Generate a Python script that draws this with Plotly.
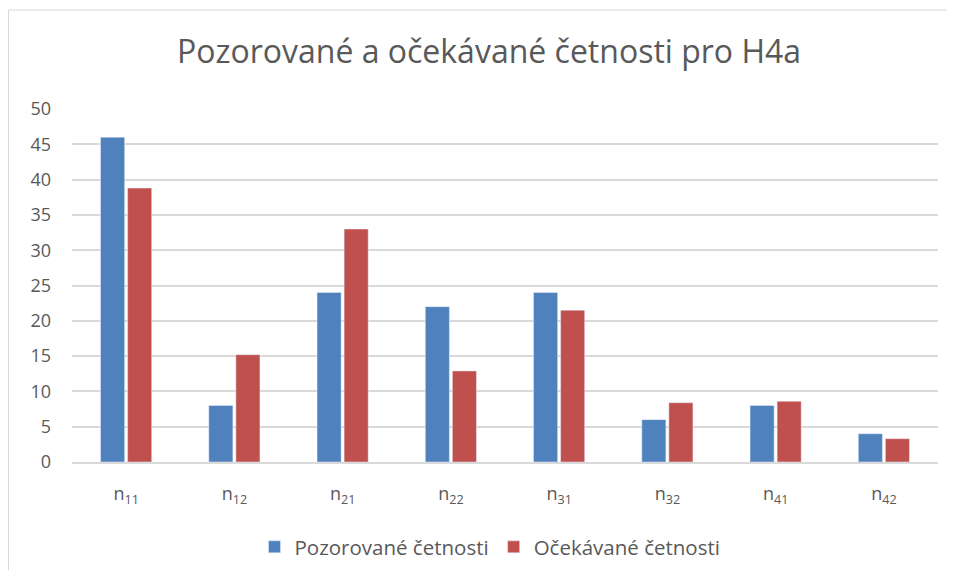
import plotly.graph_objects as go

categories = ["n<sub>11</sub>", "n<sub>12</sub>", "n<sub>21</sub>", "n<sub>22</sub>",
              "n<sub>31</sub>", "n<sub>32</sub>", "n<sub>41</sub>", "n<sub>42</sub>"]
observed = [46, 8, 24, 22, 24, 6, 8, 4]
expected = [38.8, 15.2, 33.0, 12.9, 21.5, 8.4, 8.6, 3.3]
y_ticks = [0, 5, 10, 15, 20, 25, 30, 35, 40, 45, 50]

FONT = "Open Sans, Noto Sans, sans-serif"
GRAY = "#595959"

fig = go.Figure()
fig.add_trace(go.Bar(name="Pozorované četnosti", x=categories, y=observed,
                     marker=dict(color="#4f81bd")))
fig.add_trace(go.Bar(name="Očekávané četnosti", x=categories, y=expected,
                     marker=dict(color="#c0504d")))

# page is offset by the 8px body margin
W, H = 939, 562
L, R, T = 64, 9, 101
pw = W - L - R
ph = 353
B = H - T - ph

fig.update_layout(
    width=W, height=H,
    margin=dict(l=L, r=R, t=T, b=B, autoexpand=False),
    paper_bgcolor="white", plot_bgcolor="white",
    barmode="group", bargap=0.5, bargroupgap=0.11,
    font=dict(family=FONT, color=GRAY, size=18),
    title=dict(text="Pozorované a očekávané četnosti pro H4a",
               x=481 / W, xanchor="center", y=1 - 44 / H, yanchor="middle",
               font=dict(family=FONT, size=32, color=GRAY)),
    xaxis=dict(showgrid=False, showline=True, linecolor="#d9d9d9", linewidth=1.5,
               ticks="", ticklabelstandoff=15, automargin=False,
               tickfont=dict(family=FONT, size=18, color=GRAY)),
    yaxis=dict(range=[0, 50], tickvals=y_ticks, showgrid=True, gridcolor="#d9d9d9",
               gridwidth=1.5, zeroline=False, showline=False, ticks="",
               ticklabelstandoff=20, automargin=False,
               tickfont=dict(family=FONT, size=18, color=GRAY)),
    legend=dict(orientation="h", x=(490 - 8 - L) / pw, xanchor="center",
                yref="container", y=1 - (547 - 8) / H, yanchor="middle",
                font=dict(family=FONT, size=20.5, color=GRAY),
                itemwidth=30, traceorder="normal"),
    showlegend=True,
)

fig.add_shape(type="rect", xref="paper", yref="paper",
              x0=(0.5 - L) / pw, x1=(W + 20 - L) / pw,
              y0=-1.0, y1=(T + ph - 2) / ph,
              line=dict(color="#d9d9d9", width=1), fillcolor="rgba(0,0,0,0)", layer="below")

fig.write_html("out.html")
